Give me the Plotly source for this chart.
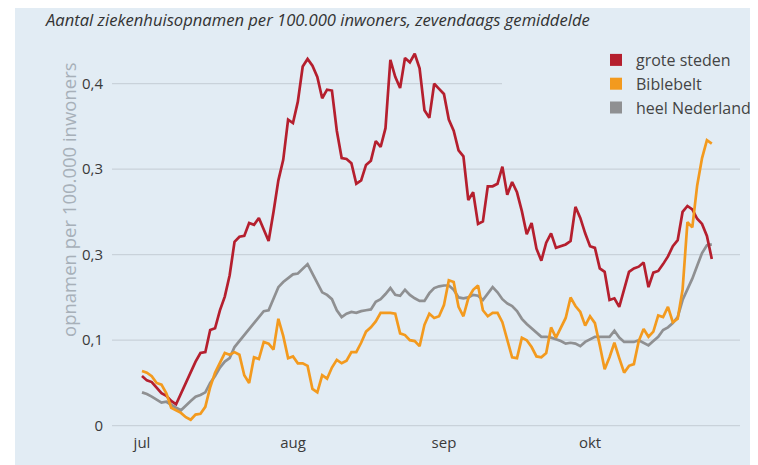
import pandas as pd
import plotly.graph_objects as go

# ---- data ----
start_date = "2021-07-01"
n_days = 118
dates = pd.date_range(start_date, periods=n_days, freq="D")

grote_steden = [
    0.058, 0.053, 0.051, 0.044, 0.038, 0.035, 0.029, 0.025, 0.038, 0.050,
    0.063, 0.075, 0.085, 0.086, 0.112, 0.114, 0.135, 0.151, 0.176, 0.215,
    0.221, 0.222, 0.237, 0.235, 0.243, 0.230, 0.216, 0.250, 0.287, 0.311,
    0.358, 0.354, 0.379, 0.420, 0.429, 0.421, 0.408, 0.383, 0.393, 0.392,
    0.345, 0.313, 0.312, 0.307, 0.283, 0.287, 0.305, 0.310, 0.333, 0.326,
    0.348, 0.428, 0.408, 0.395, 0.430, 0.425, 0.435, 0.418, 0.369, 0.360,
    0.400, 0.394, 0.388, 0.358, 0.345, 0.322, 0.315, 0.264, 0.273, 0.236,
    0.239, 0.280, 0.280, 0.283, 0.303, 0.270, 0.285, 0.273, 0.251, 0.224,
    0.237, 0.207, 0.193, 0.214, 0.225, 0.208, 0.210, 0.212, 0.216, 0.256,
    0.243, 0.225, 0.210, 0.208, 0.184, 0.180, 0.147, 0.149, 0.139, 0.161,
    0.180, 0.184, 0.186, 0.191, 0.162, 0.179, 0.181, 0.189, 0.198, 0.210,
    0.217, 0.250, 0.257, 0.253, 0.242, 0.236, 0.222, 0.195,
]

biblebelt = [
    0.064, 0.062, 0.058, 0.050, 0.048, 0.038, 0.021, 0.018, 0.015, 0.010,
    0.007, 0.013, 0.014, 0.022, 0.045, 0.062, 0.073, 0.085, 0.083, 0.086,
    0.083, 0.059, 0.050, 0.080, 0.078, 0.098, 0.096, 0.089, 0.125, 0.105,
    0.079, 0.081, 0.073, 0.073, 0.070, 0.043, 0.039, 0.059, 0.055, 0.068,
    0.077, 0.073, 0.076, 0.086, 0.086, 0.097, 0.110, 0.115, 0.122, 0.132,
    0.132, 0.132, 0.131, 0.108, 0.106, 0.100, 0.099, 0.093, 0.118, 0.131,
    0.126, 0.128, 0.141, 0.170, 0.168, 0.139, 0.128, 0.149, 0.159, 0.164,
    0.135, 0.128, 0.132, 0.132, 0.121, 0.101, 0.080, 0.079, 0.103, 0.100,
    0.092, 0.081, 0.080, 0.085, 0.115, 0.103, 0.114, 0.126, 0.150, 0.140,
    0.133, 0.117, 0.128, 0.120, 0.094, 0.066, 0.080, 0.097, 0.079, 0.062,
    0.070, 0.072, 0.099, 0.113, 0.104, 0.110, 0.129, 0.127, 0.139, 0.121,
    0.125, 0.159, 0.238, 0.232, 0.281, 0.313, 0.334, 0.330,
]

heel_nederland = [
    0.039, 0.037, 0.034, 0.030, 0.027, 0.028, 0.024, 0.021, 0.018, 0.024,
    0.029, 0.034, 0.036, 0.039, 0.050, 0.058, 0.068, 0.075, 0.079, 0.092,
    0.099, 0.105, 0.112, 0.119, 0.126, 0.134, 0.135, 0.149, 0.162, 0.168,
    0.172, 0.177, 0.178, 0.183, 0.189, 0.178, 0.166, 0.156, 0.153, 0.148,
    0.135, 0.127, 0.131, 0.133, 0.132, 0.134, 0.135, 0.136, 0.145, 0.148,
    0.154, 0.161, 0.153, 0.152, 0.159, 0.153, 0.149, 0.146, 0.146, 0.155,
    0.161, 0.163, 0.164, 0.164, 0.159, 0.150, 0.149, 0.150, 0.153, 0.152,
    0.147, 0.154, 0.162, 0.156, 0.148, 0.143, 0.140, 0.134, 0.125, 0.119,
    0.114, 0.110, 0.104, 0.104, 0.103, 0.101, 0.099, 0.096, 0.097, 0.096,
    0.093, 0.098, 0.101, 0.104, 0.104, 0.104, 0.104, 0.111, 0.103, 0.098,
    0.098, 0.098, 0.100, 0.097, 0.094, 0.099, 0.104, 0.112, 0.115, 0.120,
    0.127, 0.147, 0.159, 0.172, 0.187, 0.202, 0.211, 0.212,
]

series_names = ["grote steden", "Biblebelt", "heel Nederland"]

month_ticks = ["2021-07-01", "2021-08-01", "2021-09-01", "2021-10-01"]
month_labels = ["jul", "aug", "sep", "okt"]

y_tickvals = [0, 0.1, 0.2, 0.3, 0.4]
y_ticklabels = ["0", "0,1", "0,3", "0,3", "0,4"]

title_text = "Aantal ziekenhuisopnamen per 100.000 inwoners, zevendaags gemiddelde"
y_title = "opnamen per 100.000 inwoners"

# ---- styling ----
colors = ["#b51f2e", "#f39a1e", "#8f9092"]
bg = "#e2ecf4"
grid_col = "#c9d2da"
text_col = "#3a3a3a"
font_family = "Open Sans, Lato, sans-serif"

# the page adds an 8px body margin; figure is sized to fill the rest of the window
W, H = 750, 457
ML, MR, MT, MB = 104, 18, 42, 33
PH = H - MT - MB
PW = W - ML - MR
zero_px = 417.7        # figure pixel row of value 0
px_per_unit = 855.0
px_per_day = 4.87
first_x_px = 134       # figure pixel column of first date
x0 = pd.Timestamp(start_date) - pd.Timedelta(days=(first_x_px - ML) / px_per_day)
x1 = x0 + pd.Timedelta(days=PW / px_per_day)

fig = go.Figure()

line_order = [2, 0, 1]  # grey behind, then red, then orange
all_vals = [grote_steden, biblebelt, heel_nederland]
for i in line_order:
    fig.add_trace(go.Scatter(
        x=dates, y=all_vals[i], mode="lines", name=series_names[i],
        line=dict(color=colors[i], width=2.7), showlegend=False,
    ))

for name, col in zip(series_names, colors):
    fig.add_trace(go.Scatter(
        x=[None], y=[None], mode="markers", name=name,
        marker=dict(symbol="square", size=12, color=col),
    ))

# gridlines (0.4 line stops before the legend)
for v in y_tickvals:
    x_end = 0.621 if v == 0.4 else 1.0
    fig.add_shape(type="line", xref="paper", yref="y", x0=0, x1=x_end, y0=v, y1=v,
                  line=dict(color=grid_col, width=1.3), layer="below")

# white strip at the left of the blue panel
fig.add_shape(type="rect", xref="paper", yref="paper",
              x0=-ML / PW - 0.1, x1=-(ML - 7) / PW, y0=-1, y1=2,
              fillcolor="white", line=dict(width=0), layer="below")

fig.add_annotation(
    text=title_text, xref="paper", yref="paper",
    x=-(ML - 35) / PW, y=1 + (MT - 11) / PH,
    xanchor="left", yanchor="middle", showarrow=False,
    font=dict(family=font_family, size=16.6, color="#333333", style="italic"),
)

fig.add_annotation(
    text=y_title, xref="paper", yref="paper",
    x=-(ML - 60) / PW, y=(H - MB - 192) / PH,
    xanchor="center", yanchor="middle", textangle=-90, showarrow=False,
    font=dict(family=font_family, size=18.5, color="#a7b0b9"),
)

fig.update_layout(
    width=W, height=H,
    margin=dict(l=ML, r=MR, t=MT, b=MB, autoexpand=False),
    paper_bgcolor=bg, plot_bgcolor=bg,
    font=dict(family=font_family, color=text_col),
    showlegend=True,
    legend=dict(
        x=(588 - ML) / PW, y=1 + 7 / PH, xanchor="left", yanchor="top",
        bgcolor="rgba(0,0,0,0)", font=dict(size=16, color="#444444"),
        itemwidth=30, tracegroupgap=0,
    ),
    xaxis=dict(
        range=[x0, x1], showgrid=False, zeroline=False, showline=False,
        tickmode="array", tickvals=month_ticks, ticktext=month_labels,
        ticks="", tickfont=dict(size=15, color=text_col),
    ),
    yaxis=dict(
        range=[-(H - MB - zero_px) / px_per_unit, (zero_px - MT) / px_per_unit],
        showgrid=False, zeroline=False, showline=False,
        tickmode="array", tickvals=y_tickvals, ticktext=y_ticklabels,
        ticks="", ticklabelstandoff=8, tickfont=dict(size=15, color=text_col),
    ),
)

fig.write_html("out.html")
